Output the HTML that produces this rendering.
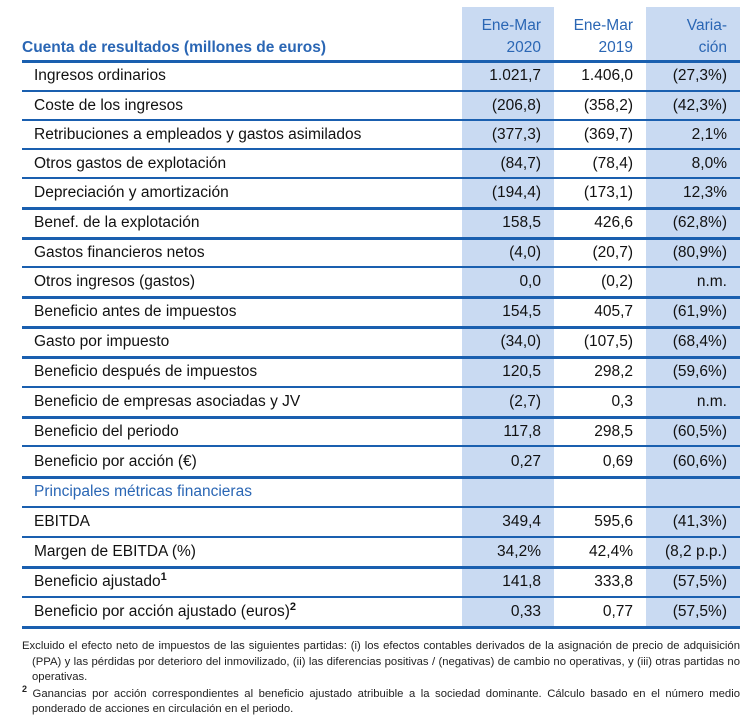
<!DOCTYPE html>
<html><head><meta charset="utf-8"><style>
body{margin:0;width:756px;height:712px;background:#fff;position:relative;overflow:hidden;font-family:"Liberation Sans",sans-serif;}
.bg{position:absolute;background:#c9daf2;}
.ln{position:absolute;left:22px;width:718px;background:#1a5faf;}
.t{position:absolute;font-size:15.5px;color:#111;white-space:nowrap;line-height:18px;}
.r{text-align:right;}
.h{color:#2a66b4;}
.fn{position:absolute;left:22px;width:718px;font-size:11.3px;color:#222;line-height:15.6px;}
.j{text-align:justify;text-align-last:justify;display:block;white-space:nowrap;}
</style></head><body>
<div class="bg" style="left:462px;top:7px;width:92px;height:621px"></div>
<div class="bg" style="left:646px;top:7px;width:94px;height:621px"></div>
<div class="t h" style="left:22px;top:39px;font-weight:bold;font-size:15.5px">Cuenta de resultados (millones de euros)</div>
<div class="t h r" style="left:462px;width:79px;top:17px">Ene-Mar</div>
<div class="t h r" style="left:462px;width:79px;top:39px">2020</div>
<div class="t h r" style="left:554px;width:79px;top:17px">Ene-Mar</div>
<div class="t h r" style="left:554px;width:79px;top:39px">2019</div>
<div class="t h r" style="left:646px;width:81px;top:17px">Varia-</div>
<div class="t h r" style="left:646px;width:81px;top:39px">ción</div>
<div id="rows"></div>
<div class="fn" style="top:639px">
<span class="j">Excluido el efecto neto de impuestos de las siguientes partidas: (i) los efectos contables derivados de la asignación de precio de adquisición</span>
<span class="j" style="padding-left:10px">(PPA) y las pérdidas por deterioro del inmovilizado, (ii) las diferencias positivas / (negativas) de cambio no operativas, y (iii) otras partidas no</span>
<span style="padding-left:10px;display:block">operativas.</span>
<span class="j" style="margin-top:1px"><sup style="font-size:9px;line-height:0;font-weight:bold">2</sup> Ganancias por acción correspondientes al beneficio ajustado atribuible a la sociedad dominante. Cálculo basado en el número medio</span>
<span style="padding-left:10px;display:block">ponderado de acciones en circulación en el periodo.</span>
</div>
<script>
var B=[61,91,120,149,178,208,238,267,297,327,357,387,417,446,477,507,537,567,597,627];
var thick=[0,5,6,8,9,10,12,14,17,19];
var R=[["Ingresos ordinarios","1.021,7","1.406,0","(27,3%)"],
["Coste de los ingresos","(206,8)","(358,2)","(42,3%)"],
["Retribuciones a empleados y gastos asimilados","(377,3)","(369,7)","2,1%"],
["Otros gastos de explotación","(84,7)","(78,4)","8,0%"],
["Depreciación y amortización","(194,4)","(173,1)","12,3%"],
["Benef. de la explotación","158,5","426,6","(62,8%)"],
["Gastos financieros netos","(4,0)","(20,7)","(80,9%)"],
["Otros ingresos (gastos)","0,0","(0,2)","n.m."],
["Beneficio antes de impuestos","154,5","405,7","(61,9%)"],
["Gasto por impuesto","(34,0)","(107,5)","(68,4%)"],
["Beneficio después de impuestos","120,5","298,2","(59,6%)"],
["Beneficio de empresas asociadas y JV","(2,7)","0,3","n.m."],
["Beneficio del periodo","117,8","298,5","(60,5%)"],
["Beneficio por acción (€)","0,27","0,69","(60,6%)"],
["<span class='h'>Principales métricas financieras</span>","","",""],
["EBITDA","349,4","595,6","(41,3%)"],
["Margen de EBITDA (%)","34,2%","42,4%","(8,2 p.p.)"],
["Beneficio ajustado<sup style='font-size:11px;line-height:0;font-weight:bold'>1</sup>","141,8","333,8","(57,5%)"],
["Beneficio por acción ajustado (euros)<sup style='font-size:11px;line-height:0;font-weight:bold'>2</sup>","0,33","0,77","(57,5%)"]];
var h="";
for(var i=0;i<B.length;i++){var w=thick.indexOf(i)>=0?3:1.3;h+='<div class="ln" style="top:'+(B[i]-w/2)+'px;height:'+w+'px"></div>';}
for(var i=0;i<R.length;i++){var y=(B[i]+B[i+1])/2-9;
h+='<div class="t" style="left:34px;top:'+y+'px">'+R[i][0]+'</div>';
h+='<div class="t r" style="left:462px;width:79px;top:'+y+'px">'+R[i][1]+'</div>';
h+='<div class="t r" style="left:554px;width:79px;top:'+y+'px">'+R[i][2]+'</div>';
h+='<div class="t r" style="left:646px;width:81px;top:'+y+'px">'+R[i][3]+'</div>';}
document.getElementById("rows").innerHTML=h;
</script>
</body></html>
